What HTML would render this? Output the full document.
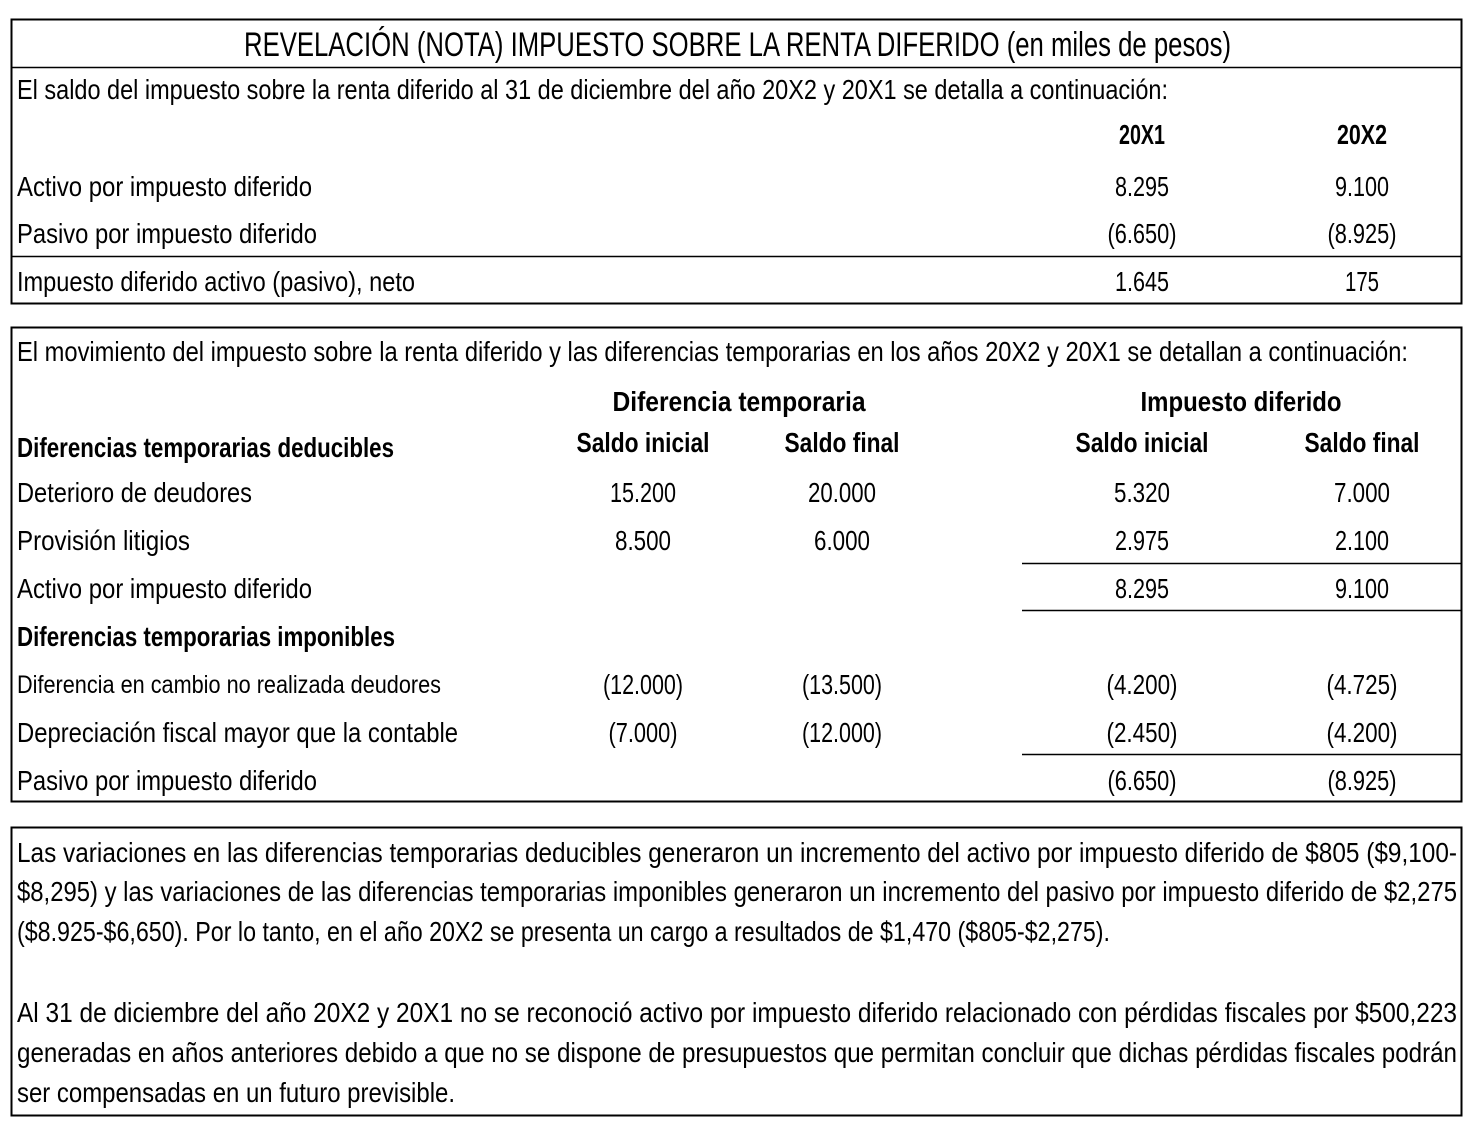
<!DOCTYPE html>
<html><head><meta charset="utf-8"><style>
html,body{margin:0;padding:0;background:#fff;}
svg{display:block;}
text{font-family:"Liberation Sans Narrow","Liberation Sans",sans-serif;font-size:28px;fill:#000;}
.b{font-weight:bold;}
</style></head><body>
<svg width="1477" height="1128" viewBox="0 0 1477 1128">
<g>
<rect x="11.5" y="19.5" width="1450" height="284" fill="none" stroke="#000" stroke-width="2"/>
<line x1="11" y1="67.5" x2="1461" y2="67.5" stroke="#000" stroke-width="1.5"/>
<text x="244" y="56" style="font-size:34px" textLength="987" lengthAdjust="spacingAndGlyphs">REVELACIÓN (NOTA) IMPUESTO SOBRE LA RENTA DIFERIDO (en miles de pesos)</text>
<text x="17" y="99" textLength="1151" lengthAdjust="spacingAndGlyphs">El saldo del impuesto sobre la renta diferido al 31 de diciembre del año 20X2 y 20X1 se detalla a continuación:</text>
<text class="b" x="1142" y="144" text-anchor="middle" textLength="46" lengthAdjust="spacingAndGlyphs">20X1</text>
<text class="b" x="1362" y="144" text-anchor="middle" textLength="50" lengthAdjust="spacingAndGlyphs">20X2</text>
<text x="17" y="196" textLength="295" lengthAdjust="spacingAndGlyphs">Activo por impuesto diferido</text>
<text x="1142" y="196" text-anchor="middle" textLength="54" lengthAdjust="spacingAndGlyphs">8.295</text>
<text x="1362" y="196" text-anchor="middle" textLength="54" lengthAdjust="spacingAndGlyphs">9.100</text>
<text x="17" y="243" textLength="300" lengthAdjust="spacingAndGlyphs">Pasivo por impuesto diferido</text>
<text x="1142" y="243" text-anchor="middle" textLength="69" lengthAdjust="spacingAndGlyphs">(6.650)</text>
<text x="1362" y="243" text-anchor="middle" textLength="69" lengthAdjust="spacingAndGlyphs">(8.925)</text>
<line x1="11" y1="256.5" x2="1461" y2="256.5" stroke="#000" stroke-width="1.5"/>
<text x="17" y="291" textLength="398" lengthAdjust="spacingAndGlyphs">Impuesto diferido activo (pasivo), neto</text>
<text x="1142" y="291" text-anchor="middle" textLength="54" lengthAdjust="spacingAndGlyphs">1.645</text>
<text x="1362" y="291" text-anchor="middle" textLength="34" lengthAdjust="spacingAndGlyphs">175</text>
</g>
<g>
<rect x="11.5" y="327.5" width="1450" height="474" fill="none" stroke="#000" stroke-width="2"/>
<text x="17" y="361" textLength="1391" lengthAdjust="spacingAndGlyphs">El movimiento del impuesto sobre la renta diferido y las diferencias temporarias en los años 20X2 y 20X1 se detallan a continuación:</text>
<text class="b" x="739" y="411" text-anchor="middle" textLength="253" lengthAdjust="spacingAndGlyphs">Diferencia temporaria</text>
<text class="b" x="1241" y="411" text-anchor="middle" textLength="201" lengthAdjust="spacingAndGlyphs">Impuesto diferido</text>
<text class="b" x="17" y="457" textLength="377" lengthAdjust="spacingAndGlyphs">Diferencias temporarias deducibles</text>
<text class="b" x="643" y="452" text-anchor="middle" textLength="133" lengthAdjust="spacingAndGlyphs">Saldo inicial</text>
<text class="b" x="842" y="452" text-anchor="middle" textLength="115" lengthAdjust="spacingAndGlyphs">Saldo final</text>
<text class="b" x="1142" y="452" text-anchor="middle" textLength="133" lengthAdjust="spacingAndGlyphs">Saldo inicial</text>
<text class="b" x="1362" y="452" text-anchor="middle" textLength="115" lengthAdjust="spacingAndGlyphs">Saldo final</text>

<text x="17" y="502" textLength="235" lengthAdjust="spacingAndGlyphs">Deterioro de deudores</text>
<text x="643" y="502" text-anchor="middle" textLength="66" lengthAdjust="spacingAndGlyphs">15.200</text><text x="842" y="502" text-anchor="middle" textLength="68" lengthAdjust="spacingAndGlyphs">20.000</text><text x="1142" y="502" text-anchor="middle" textLength="56" lengthAdjust="spacingAndGlyphs">5.320</text><text x="1362" y="502" text-anchor="middle" textLength="56" lengthAdjust="spacingAndGlyphs">7.000</text>

<text x="17" y="550" textLength="173" lengthAdjust="spacingAndGlyphs">Provisión litigios</text>
<text x="643" y="550" text-anchor="middle" textLength="56" lengthAdjust="spacingAndGlyphs">8.500</text><text x="842" y="550" text-anchor="middle" textLength="56" lengthAdjust="spacingAndGlyphs">6.000</text><text x="1142" y="550" text-anchor="middle" textLength="54" lengthAdjust="spacingAndGlyphs">2.975</text><text x="1362" y="550" text-anchor="middle" textLength="54" lengthAdjust="spacingAndGlyphs">2.100</text>
<line x1="1022" y1="563.5" x2="1461" y2="563.5" stroke="#000" stroke-width="1.5"/>

<text x="17" y="598" textLength="295" lengthAdjust="spacingAndGlyphs">Activo por impuesto diferido</text>
<text x="1142" y="598" text-anchor="middle" textLength="54" lengthAdjust="spacingAndGlyphs">8.295</text><text x="1362" y="598" text-anchor="middle" textLength="54" lengthAdjust="spacingAndGlyphs">9.100</text>
<line x1="1022" y1="610.5" x2="1461" y2="610.5" stroke="#000" stroke-width="1.5"/>

<text class="b" x="17" y="646" textLength="378" lengthAdjust="spacingAndGlyphs">Diferencias temporarias imponibles</text>

<text x="17" y="693" style="font-size:25px" textLength="424" lengthAdjust="spacingAndGlyphs">Diferencia en cambio no realizada deudores</text>
<text x="643" y="694" text-anchor="middle" textLength="80" lengthAdjust="spacingAndGlyphs">(12.000)</text><text x="842" y="694" text-anchor="middle" textLength="80" lengthAdjust="spacingAndGlyphs">(13.500)</text><text x="1142" y="694" text-anchor="middle" textLength="71" lengthAdjust="spacingAndGlyphs">(4.200)</text><text x="1362" y="694" text-anchor="middle" textLength="71" lengthAdjust="spacingAndGlyphs">(4.725)</text>

<text x="17" y="742" textLength="441" lengthAdjust="spacingAndGlyphs">Depreciación fiscal mayor que la contable</text>
<text x="643" y="742" text-anchor="middle" textLength="69" lengthAdjust="spacingAndGlyphs">(7.000)</text><text x="842" y="742" text-anchor="middle" textLength="80" lengthAdjust="spacingAndGlyphs">(12.000)</text><text x="1142" y="742" text-anchor="middle" textLength="71" lengthAdjust="spacingAndGlyphs">(2.450)</text><text x="1362" y="742" text-anchor="middle" textLength="71" lengthAdjust="spacingAndGlyphs">(4.200)</text>
<line x1="1022" y1="754.5" x2="1461" y2="754.5" stroke="#000" stroke-width="1.5"/>

<text x="17" y="790" textLength="300" lengthAdjust="spacingAndGlyphs">Pasivo por impuesto diferido</text>
<text x="1142" y="790" text-anchor="middle" textLength="69" lengthAdjust="spacingAndGlyphs">(6.650)</text><text x="1362" y="790" text-anchor="middle" textLength="69" lengthAdjust="spacingAndGlyphs">(8.925)</text>
</g>
<g>
<rect x="11.5" y="827.5" width="1450" height="288" fill="none" stroke="#000" stroke-width="2"/>
<text x="17" y="862" textLength="1440" lengthAdjust="spacingAndGlyphs">Las variaciones en las diferencias temporarias deducibles generaron un incremento del activo por impuesto diferido de $805 ($9,100-</text>
<text x="17" y="901" textLength="1440" lengthAdjust="spacingAndGlyphs">$8,295) y las variaciones de las diferencias temporarias imponibles generaron un incremento del pasivo por impuesto diferido de $2,275</text>
<text x="17" y="941" textLength="1093" lengthAdjust="spacingAndGlyphs">($8.925-$6,650). Por lo tanto, en el año 20X2 se presenta un cargo a resultados de $1,470 ($805-$2,275).</text>
<text x="17" y="1022" textLength="1440" lengthAdjust="spacingAndGlyphs">Al 31 de diciembre del año 20X2 y 20X1 no se reconoció activo por impuesto diferido relacionado con pérdidas fiscales por $500,223</text>
<text x="17" y="1062" textLength="1440" lengthAdjust="spacingAndGlyphs">generadas en años anteriores debido a que no se dispone de presupuestos que permitan concluir que dichas pérdidas fiscales podrán</text>
<text x="17" y="1102" textLength="438" lengthAdjust="spacingAndGlyphs">ser compensadas en un futuro previsible.</text>
</g>
</svg>
</body></html>
